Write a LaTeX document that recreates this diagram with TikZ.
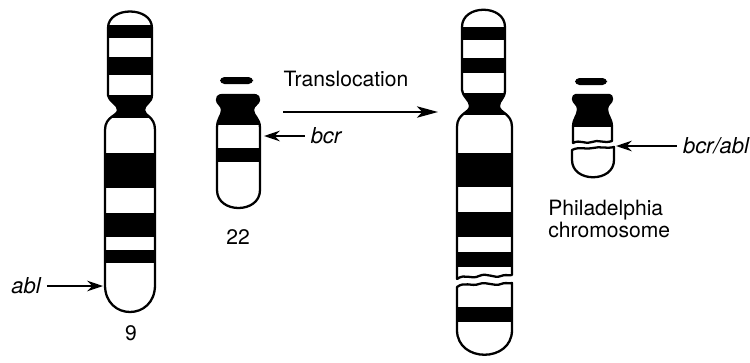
\documentclass[tikz,border=0pt]{standalone}
\usepackage{fontspec}
\setmainfont{TeX Gyre Heros}
\usepackage{tikz}
\usetikzlibrary{arrows.meta}

\tikzset{
    chromo/.style={draw, line width=1.3pt, line join=round},
    band/.style={fill=black},
    txt/.style={font=\fontsize{12}{12.5}\selectfont},
    gene/.style={font=\fontsize{12.5}{13}\selectfont\itshape},
    pointer/.style={-{Stealth[length=9pt,width=6pt]}, line width=1.2pt},
    shift arrow/.style={-{Stealth[length=12pt,width=6.5pt,inset=3pt]}, line width=1pt}
}

% Outlines of the chromosomes (pixel units, y downwards)
\def\outlineNine{(108,28) -- (108,95) .. controls (110,103) and (118,104) .. (118,110) .. controls (118,116) and (105,116) .. (105,130) -- (105,285) .. controls (105,321) and (155,321) .. (155,285) -- (155,130) .. controls (155,116) and (144,116) .. (144,110) .. controls (144,104) and (152,103) .. (152,95) -- (152,28) .. controls (152,6) and (108,6) .. cycle}
\def\outlineTwentyTwo{(217,128) -- (217,190) .. controls (217,214) and (260,214) .. (260,190) -- (260,128) .. controls (260,118) and (253,116) .. (253,110) .. controls (253,105) and (259,104) .. (259,100) .. controls (259,94) and (254,95) .. (249,95) -- (228,95) .. controls (222,95) and (217,94) .. (217,100) .. controls (217,104) and (222,105) .. (222,110) .. controls (222,116) and (217,118) .. cycle}
\def\outlineDerUpper{(462,27) -- (462,90) .. controls (464,99) and (470,100) .. (470,106) .. controls (470,113) and (457,113) .. (457,127) -- (457,279) .. controls (465,273) and (471,280) .. (479,276) .. controls (487,272) and (494,279) .. (501,276) .. controls (505,274) and (509,276) .. (512,275) -- (512,127) .. controls (512,113) and (499,113) .. (499,106) .. controls (499,100) and (505,99) .. (505,90) -- (505,27) .. controls (505,4) and (462,4) .. cycle}
\def\outlineDerLower{(457,287) .. controls (465,281) and (471,287) .. (479,284) .. controls (487,281) and (494,287) .. (501,284) .. controls (505,282) and (509,284) .. (512,283) -- (512,330) .. controls (512,363) and (457,363) .. (457,330) -- cycle}
\def\outlinePhUpper{(573,127) -- (573,143) .. controls (580,139) and (586,145) .. (592,142) .. controls (598,139) and (604,144) .. (612,141) -- (612,127) .. controls (612,118) and (607,116) .. (607,109) .. controls (607,104) and (612,103) .. (612,99) .. controls (612,94) and (608,95) .. (604,95) -- (581,95) .. controls (577,95) and (573,94) .. (573,99) .. controls (573,103) and (578,104) .. (578,109) .. controls (578,116) and (573,118) .. cycle}
\def\outlinePhLower{(572,150) .. controls (580,146) and (586,150) .. (593,148) .. controls (600,146) and (606,149) .. (614,147) -- (614,160) .. controls (614,183) and (572,183) .. (572,160) -- cycle}

\begin{document}
\begin{tikzpicture}[x=0.02cm, y=-0.02cm]
        \useasboundingbox (0,0) rectangle (750,362);

        % Chromosome 9
        \begin{scope}
            \clip \outlineNine;
            \foreach \a/\b in {25/38, 57/75, 95/118, 153/188, 213/237, 250/263}
                \fill[band] (100,\a) rectangle (160,\b);
        \end{scope}
        \draw[chromo] \outlineNine;

        % Chromosome 22
        \fill[band, rounded corners=2.5pt] (220,77) rectangle (253,84);
        \begin{scope}
            \clip \outlineTwentyTwo;
            \fill[band] (210,90) rectangle (265,125);
            \fill[band] (210,148) rectangle (265,162);
        \end{scope}
        \draw[chromo] \outlineTwentyTwo;

        % The longer chromosome 9 after the exchange
        \begin{scope}
            \clip \outlineDerUpper;
            \foreach \a/\b in {27/40, 58/73, 93/115, 153/187, 212/237, 252/267}
                \fill[band] (450,\a) rectangle (520,\b);
        \end{scope}
        \draw[chromo] \outlineDerUpper;
        \begin{scope}
            \clip \outlineDerLower;
            \fill[band] (450,307) rectangle (520,322);
        \end{scope}
        \draw[chromo] \outlineDerLower;

        % The short chromosome 22 after the exchange
        \fill[band, rounded corners=2.5pt] (575,78) rectangle (607,85);
        \begin{scope}
            \clip \outlinePhUpper;
            \fill[band] (565,90) rectangle (620,127);
        \end{scope}
        \draw[chromo] \outlinePhUpper;
        \draw[chromo] \outlinePhLower;

        % Numbers under the chromosomes
        \node[txt] (nine) at (131,333) {9};
        \node[txt] (twotwo) at (238,237) {22};
        \node[txt, anchor=west, align=left, inner sep=0] (ph) at (548,219) {Philadelphia\\chromosome};

        % The exchange
        \coordinate (trstart) at (283,112);
        \coordinate (trend) at (438,112);
        \draw[shift arrow] (trstart) -- (trend);
        \node[txt] (transloc) at (346,79) {Translocation};

        % Genes at the break points
        \node[gene] (abl) at (26,286) {abl};
        \coordinate (ablsite) at (103,286);
        \draw[pointer] (abl.east) -- (ablsite);

        \node[gene] (bcr) at (326,136) {bcr};
        \coordinate (bcrsite) at (264,136);
        \draw[pointer] (bcr.west) -- (bcrsite);

        \node[gene] (fusion) at (716,146) {bcr/abl};
        \coordinate (fusionsite) at (616,146);
        \draw[pointer] (fusion.west) -- (fusionsite);
    \end{tikzpicture}
\end{document}
